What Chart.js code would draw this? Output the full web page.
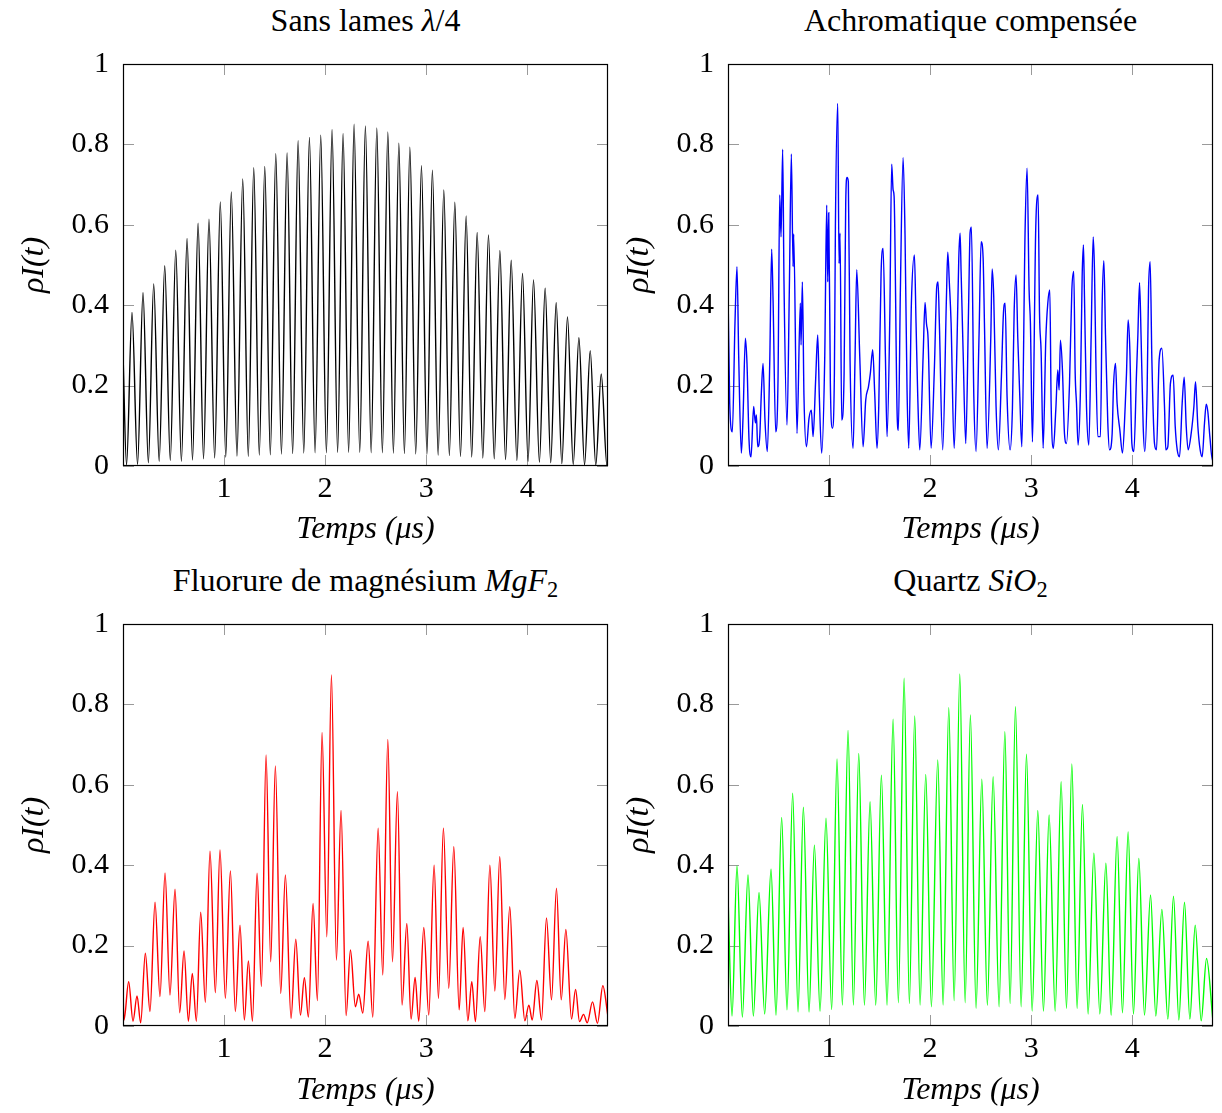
<!DOCTYPE html>
<html>
<head>
<meta charset="utf-8">
<script src="https://cdn.jsdelivr.net/npm/chart.js@4.4.1/dist/chart.umd.min.js"></script>
<style>
  body { margin: 0; background: #fff; width: 1222px; height: 1113px; position: relative; overflow: hidden;
         font-family: 'Liberation Serif', 'Times New Roman', serif; }
  canvas { position: absolute; }
  .title { position: absolute; width: 485px; text-align: center; font-size: 32px; line-height: 36px; color: #000; }
  .title sub { font-size: 0.7em; vertical-align: -0.25em; line-height: 0; }
</style>
</head>
<body>
<div class="title" style="left:123px; top:2px">Sans lames <i>λ</i>/4</div>
<div class="title" style="left:728px; top:2px">Achromatique compensée</div>
<div class="title" style="left:123px; top:562px">Fluorure de magnésium <i>MgF</i><sub>2</sub></div>
<div class="title" style="left:728px; top:562px">Quartz <i>SiO</i><sub>2</sub></div>

<canvas id="noPlates" width="617" height="556" style="left:0; top:0"></canvas>
<canvas id="achromatic" width="617" height="556" style="left:605px; top:0"></canvas>
<canvas id="mgf2" width="617" height="557" style="left:0; top:556px"></canvas>
<canvas id="quartz" width="617" height="557" style="left:605px; top:556px"></canvas>

<script>
// DATA -----------------------------------------------------------------------

const xTicks = [1, 2, 3, 4]
const yTicks = [0, 0.2, 0.4, 0.6, 0.8, 1]

// Sans lames lambda/4 (peaks and troughs)
const blackTimes = [
    0, 0.035, 0.089, 0.144, 0.198, 0.251, 0.304, 0.358, 0.413, 0.468,
    0.522, 0.578, 0.634, 0.688, 0.743, 0.797, 0.851, 0.907, 0.963, 1.017,
    1.072, 1.128, 1.185, 1.240, 1.294, 1.349, 1.403, 1.458, 1.512, 1.568,
    1.624, 1.679, 1.733, 1.789, 1.845, 1.901, 1.957, 2.013, 2.069, 2.124,
    2.178, 2.233, 2.287, 2.343, 2.399, 2.456, 2.512, 2.567, 2.621, 2.676,
    2.730, 2.785, 2.839, 2.897, 2.954, 3.008, 3.062, 3.119, 3.175, 3.230,
    3.284, 3.340, 3.396, 3.451, 3.505, 3.561, 3.617, 3.674, 3.730, 3.786,
    3.842, 3.898, 3.954, 4.009, 4.063, 4.121, 4.178, 4.233, 4.287, 4.343,
    4.399, 4.456, 4.512, 4.568, 4.624, 4.679, 4.733, 4.790, 4.8
]
const blackValues = [
    0.28, 0.003, 0.382, 0.004, 0.431, 0.008, 0.453, 0.012, 0.498, 0.014,
    0.537, 0.012, 0.566, 0.015, 0.604, 0.018, 0.614, 0.020, 0.657, 0.022,
    0.682, 0.025, 0.714, 0.024, 0.742, 0.027, 0.745, 0.028, 0.777, 0.030,
    0.779, 0.031, 0.809, 0.032, 0.817, 0.033, 0.823, 0.033, 0.837, 0.034,
    0.827, 0.034, 0.850, 0.034, 0.846, 0.033, 0.841, 0.033, 0.831, 0.032,
    0.803, 0.031, 0.793, 0.030, 0.747, 0.029, 0.736, 0.027, 0.687, 0.026,
    0.656, 0.024, 0.622, 0.022, 0.581, 0.020, 0.575, 0.018, 0.536, 0.016,
    0.512, 0.014, 0.479, 0.012, 0.463, 0.010, 0.442, 0.008, 0.406, 0.006,
    0.371, 0.004, 0.319, 0.003, 0.287, 0.002, 0.229, 0.0, 0.01
]

// Achromatique compensee
const blueTimes = [
    0, 0.017, 0.043, 0.069, 0.089, 0.106, 0.132, 0.149, 0.172, 0.188,
    0.208, 0.228, 0.254, 0.271, 0.281, 0.294, 0.314, 0.330, 0.347, 0.366,
    0.389, 0.413, 0.432, 0.446, 0.472, 0.495, 0.512, 0.525, 0.541, 0.554,
    0.584, 0.607, 0.627, 0.644, 0.650, 0.683, 0.716, 0.723, 0.736, 0.752,
    0.776, 0.802, 0.825, 0.842, 0.868, 0.888, 0.904, 0.927, 0.957, 0.977,
    0.987, 0.997, 1.013, 1.033, 1.053, 1.063, 1.086, 1.099, 1.109, 1.125,
    1.149, 1.165, 1.178, 1.191, 1.208, 1.238, 1.257, 1.274, 1.304, 1.337,
    1.363, 1.390, 1.409, 1.432, 1.452, 1.475, 1.492, 1.515, 1.535, 1.558,
    1.574, 1.601, 1.620, 1.634, 1.644, 1.673, 1.686, 1.706, 1.733, 1.752,
    1.772, 1.789, 1.815, 1.845, 1.861, 1.878, 1.898, 1.931, 1.950, 1.964,
    1.980, 2.010, 2.043, 2.066, 2.079, 2.092, 2.125, 2.162, 2.175, 2.191,
    2.208, 2.238, 2.267, 2.284, 2.297, 2.307, 2.327, 2.353, 2.380, 2.396,
    2.409, 2.433, 2.455, 2.485, 2.505, 2.525, 2.538, 2.564, 2.601, 2.614,
    2.630, 2.653, 2.676, 2.706, 2.726, 2.743, 2.762, 2.792, 2.815, 2.832,
    2.851, 2.868, 2.888, 2.908, 2.941, 2.960, 2.980, 2.993, 3.013, 3.046,
    3.069, 3.083, 3.099, 3.119, 3.145, 3.165, 3.185, 3.198, 3.220, 3.244,
    3.264, 3.277, 3.290, 3.310, 3.330, 3.350, 3.380, 3.403, 3.422, 3.436,
    3.449, 3.465, 3.488, 3.505, 3.518, 3.528, 3.548, 3.571, 3.594, 3.614,
    3.627, 3.640, 3.660, 3.686, 3.703, 3.720, 3.736, 3.759, 3.776, 3.802,
    3.815, 3.835, 3.851, 3.878, 3.904, 3.931, 3.944, 3.960, 3.977, 3.997,
    4.017, 4.043, 4.056, 4.073, 4.089, 4.109, 4.125, 4.148, 4.162, 4.178,
    4.195, 4.221, 4.241, 4.267, 4.294, 4.320, 4.333, 4.353, 4.379, 4.406,
    4.426, 4.446, 4.469, 4.495, 4.515, 4.535, 4.554, 4.584, 4.611, 4.627,
    4.650, 4.673, 4.693, 4.716, 4.733, 4.749, 4.769, 4.795, 4.8
]
const blueValues = [
    0.442, 0.156, 0.085, 0.355, 0.496, 0.272, 0.032, 0.123, 0.318, 0.255,
    0.065, 0.023, 0.148, 0.107, 0.127, 0.048, 0.073, 0.181, 0.255, 0.114,
    0.036, 0.255, 0.539, 0.413, 0.085, 0.214, 0.674, 0.570, 0.788, 0.461,
    0.102, 0.438, 0.776, 0.496, 0.577, 0.081, 0.405, 0.301, 0.458, 0.172,
    0.048, 0.119, 0.139, 0.073, 0.218, 0.326, 0.172, 0.032, 0.264, 0.649,
    0.458, 0.630, 0.206, 0.094, 0.231, 0.595, 0.902, 0.504, 0.579, 0.114,
    0.231, 0.653, 0.718, 0.707, 0.264, 0.044, 0.264, 0.488, 0.272, 0.048,
    0.164, 0.197, 0.231, 0.289, 0.181, 0.044, 0.148, 0.479, 0.541, 0.272,
    0.073, 0.363, 0.751, 0.687, 0.670, 0.139, 0.089, 0.438, 0.767, 0.575,
    0.189, 0.044, 0.405, 0.525, 0.356, 0.172, 0.040, 0.272, 0.407, 0.355,
    0.318, 0.044, 0.247, 0.446, 0.458, 0.353, 0.040, 0.421, 0.532, 0.454,
    0.356, 0.044, 0.310, 0.517, 0.579, 0.484, 0.284, 0.056, 0.380, 0.581,
    0.594, 0.172, 0.036, 0.330, 0.558, 0.517, 0.355, 0.044, 0.322, 0.490,
    0.421, 0.148, 0.040, 0.223, 0.380, 0.405, 0.172, 0.040, 0.144, 0.384,
    0.475, 0.318, 0.172, 0.048, 0.595, 0.741, 0.438, 0.355, 0.060, 0.595,
    0.674, 0.380, 0.284, 0.044, 0.313, 0.405, 0.438, 0.156, 0.044, 0.139,
    0.239, 0.189, 0.313, 0.239, 0.081, 0.056, 0.206, 0.438, 0.484, 0.231,
    0.156, 0.052, 0.189, 0.471, 0.550, 0.421, 0.148, 0.052, 0.322, 0.570,
    0.487, 0.272, 0.073, 0.073, 0.400, 0.511, 0.326, 0.107, 0.040, 0.081,
    0.197, 0.255, 0.156, 0.090, 0.032, 0.148, 0.231, 0.363, 0.289, 0.056,
    0.036, 0.231, 0.322, 0.456, 0.313, 0.099, 0.036, 0.189, 0.438, 0.508,
    0.264, 0.056, 0.040, 0.264, 0.293, 0.148, 0.040, 0.048, 0.206, 0.226,
    0.099, 0.040, 0.023, 0.156, 0.221, 0.099, 0.040, 0.081, 0.148, 0.210,
    0.099, 0.040, 0.023, 0.107, 0.154, 0.135, 0.073, 0.014, 0.02
]

// Fluorure de magnesium MgF2
const redTimes = [
    0, 0.010, 0.056, 0.099, 0.139, 0.175, 0.221, 0.267, 0.317, 0.366,
    0.416, 0.465, 0.515, 0.561, 0.604, 0.647, 0.686, 0.726, 0.769, 0.815,
    0.861, 0.914, 0.960, 1.013, 1.063, 1.112, 1.158, 1.201, 1.241, 1.281,
    1.327, 1.370, 1.416, 1.462, 1.508, 1.561, 1.607, 1.663, 1.710, 1.756,
    1.795, 1.835, 1.881, 1.924, 1.970, 2.017, 2.063, 2.112, 2.158, 2.208,
    2.251, 2.300, 2.333, 2.373, 2.426, 2.472, 2.525, 2.571, 2.621, 2.667,
    2.716, 2.762, 2.809, 2.851, 2.891, 2.927, 2.977, 3.026, 3.079, 3.122,
    3.171, 3.224, 3.274, 3.327, 3.366, 3.413, 3.452, 3.488, 3.535, 3.581,
    3.631, 3.680, 3.729, 3.779, 3.828, 3.878, 3.927, 3.977, 4.017, 4.050,
    4.096, 4.142, 4.191, 4.241, 4.290, 4.337, 4.383, 4.439, 4.479, 4.518,
    4.558, 4.594, 4.647, 4.696, 4.749, 4.8
]
const redValues = [
    0.085, 0.015, 0.110, 0.012, 0.075, 0.008, 0.181, 0.036, 0.308, 0.073,
    0.381, 0.077, 0.340, 0.033, 0.187, 0.012, 0.131, 0.012, 0.283, 0.059,
    0.435, 0.083, 0.438, 0.069, 0.386, 0.036, 0.251, 0.015, 0.162, 0.012,
    0.380, 0.098, 0.674, 0.160, 0.647, 0.081, 0.376, 0.019, 0.216, 0.027,
    0.120, 0.022, 0.305, 0.063, 0.730, 0.222, 0.873, 0.164, 0.536, 0.026,
    0.189, 0.048, 0.079, 0.032, 0.211, 0.022, 0.492, 0.127, 0.713, 0.160,
    0.583, 0.052, 0.255, 0.017, 0.121, 0.012, 0.245, 0.027, 0.400, 0.069,
    0.492, 0.094, 0.446, 0.040, 0.245, 0.013, 0.110, 0.011, 0.222, 0.036,
    0.400, 0.087, 0.421, 0.066, 0.297, 0.019, 0.139, 0.013, 0.052, 0.015,
    0.113, 0.015, 0.269, 0.065, 0.343, 0.065, 0.240, 0.017, 0.091, 0.011,
    0.029, 0.008, 0.060, 0.007, 0.100, 0.023
]

// Quartz SiO2
const greenTimes = [
    0, 0.040, 0.089, 0.142, 0.198, 0.251, 0.307, 0.363, 0.426, 0.475,
    0.531, 0.584, 0.640, 0.693, 0.746, 0.802, 0.855, 0.911, 0.970, 1.026,
    1.079, 1.132, 1.188, 1.241, 1.294, 1.350, 1.406, 1.462, 1.518, 1.574,
    1.634, 1.686, 1.743, 1.795, 1.848, 1.901, 1.957, 2.013, 2.076, 2.129,
    2.185, 2.238, 2.294, 2.347, 2.399, 2.455, 2.512, 2.567, 2.624, 2.683,
    2.740, 2.792, 2.845, 2.901, 2.954, 3.010, 3.066, 3.122, 3.178, 3.238,
    3.297, 3.350, 3.403, 3.455, 3.508, 3.564, 3.621, 3.680, 3.740, 3.792,
    3.851, 3.904, 3.960, 4.013, 4.066, 4.122, 4.182, 4.234, 4.294, 4.353,
    4.409, 4.462, 4.518, 4.571, 4.624, 4.683, 4.736, 4.8
]
const greenValues = [
    0.323, 0.025, 0.398, 0.022, 0.376, 0.025, 0.332, 0.030, 0.390, 0.027,
    0.519, 0.040, 0.579, 0.035, 0.544, 0.035, 0.450, 0.037, 0.517, 0.041,
    0.664, 0.052, 0.735, 0.052, 0.678, 0.052, 0.558, 0.052, 0.624, 0.052,
    0.763, 0.058, 0.865, 0.056, 0.771, 0.052, 0.626, 0.048, 0.662, 0.052,
    0.792, 0.063, 0.876, 0.058, 0.774, 0.044, 0.614, 0.052, 0.620, 0.048,
    0.732, 0.056, 0.794, 0.048, 0.676, 0.037, 0.536, 0.037, 0.525, 0.037,
    0.608, 0.044, 0.652, 0.044, 0.551, 0.030, 0.430, 0.030, 0.405, 0.027,
    0.471, 0.033, 0.483, 0.030, 0.417, 0.027, 0.326, 0.025, 0.290, 0.017,
    0.323, 0.015, 0.308, 0.017, 0.251, 0.013, 0.168, 0.011
]

// SETTINGS -------------------------------------------------------------------

const serif = "'Liberation Serif', 'Times New Roman', serif"
const tickFont = {family: serif, size: 30}
const titleFont = {family: serif, size: 32, style: 'italic'}
const tickLength = 11

// HELPERS --------------------------------------------------------------------

function toPoints(times, values) {
    return times.map((t, i) => ({x: t, y: values[i]}))
}

// inward ticks on all four sides + black frame, like pgfplots
const framePlugin = {
    id: 'frame',
    beforeDatasetsDraw(chart) {
        const {ctx, chartArea: a, scales: {x, y}} = chart
        ctx.save()
        ctx.strokeStyle = '#9a9a9a'
        ctx.lineWidth = 1
        ctx.beginPath()
        x.ticks.forEach((t) => {
            const px = Math.round(x.getPixelForValue(t.value)) + 0.5
            ctx.moveTo(px, a.bottom); ctx.lineTo(px, a.bottom - tickLength)
            ctx.moveTo(px, a.top); ctx.lineTo(px, a.top + tickLength)
        })
        y.ticks.forEach((t) => {
            const py = Math.round(y.getPixelForValue(t.value)) + 0.5
            ctx.moveTo(a.left, py); ctx.lineTo(a.left + tickLength, py)
            ctx.moveTo(a.right, py); ctx.lineTo(a.right - tickLength, py)
        })
        ctx.stroke()
        ctx.restore()
    },
    afterDatasetsDraw(chart) {
        const {ctx, chartArea: a} = chart
        ctx.save()
        ctx.strokeStyle = '#000'
        ctx.lineWidth = 1.2
        ctx.strokeRect(Math.round(a.left) + 0.5, Math.round(a.top) + 0.5,
            Math.round(a.width) - 1, Math.round(a.height) - 1)
        ctx.restore()
    }
}

// PANELS ---------------------------------------------------------------------

function makePanel(id, times, values, color, plotTop, xTitleGap) {
    const canvas = document.getElementById(id)
    const plotBottom = plotTop + 402
    new Chart(canvas, {
        type: 'line',
        data: {
            datasets: [{
                data: toPoints(times, values),
                borderColor: color,
                borderWidth: 1.4,
                pointRadius: 0,
                cubicInterpolationMode: 'monotone',
                fill: false
            }]
        },
        options: {
            responsive: false,
            animation: false,
            events: [],
            layout: {padding: {top: plotTop, right: 9, left: 0, bottom: 0}},
            plugins: {
                legend: {display: false},
                tooltip: {enabled: false}
            },
            scales: {
                x: {
                    type: 'linear',
                    min: 0,
                    max: 4.8,
                    grid: {display: false, drawTicks: false},
                    border: {display: false},
                    afterBuildTicks: (s) => { s.ticks = xTicks.map((v) => ({value: v})) },
                    afterFit: (s) => { s.height = canvas.height - plotBottom },
                    ticks: {font: tickFont, color: '#000', padding: 5, maxRotation: 0, callback: (v) => String(v)},
                    title: {display: true, text: 'Temps (μs)', font: titleFont, color: '#000',
                        padding: {top: 0, bottom: xTitleGap}}
                },
                y: {
                    type: 'linear',
                    min: 0,
                    max: 1,
                    grid: {display: false, drawTicks: false},
                    border: {display: false},
                    afterBuildTicks: (s) => { s.ticks = yTicks.map((v) => ({value: v})) },
                    afterFit: (s) => { s.width = 123 },
                    ticks: {font: tickFont, color: '#000', padding: 14, callback: (v) => String(v)},
                    title: {display: true, text: 'ρI(t)', font: titleFont, color: '#000',
                        padding: {top: 15, bottom: 0}}
                }
            }
        },
        plugins: [framePlugin]
    })
}

makePanel('noPlates', blackTimes, blackValues, '#000000', 64, 7)
makePanel('achromatic', blueTimes, blueValues, '#0000ff', 64, 7)
makePanel('mgf2', redTimes, redValues, '#ff0000', 68, 3)
makePanel('quartz', greenTimes, greenValues, '#00ff00', 68, 3)
</script>
</body>
</html>
